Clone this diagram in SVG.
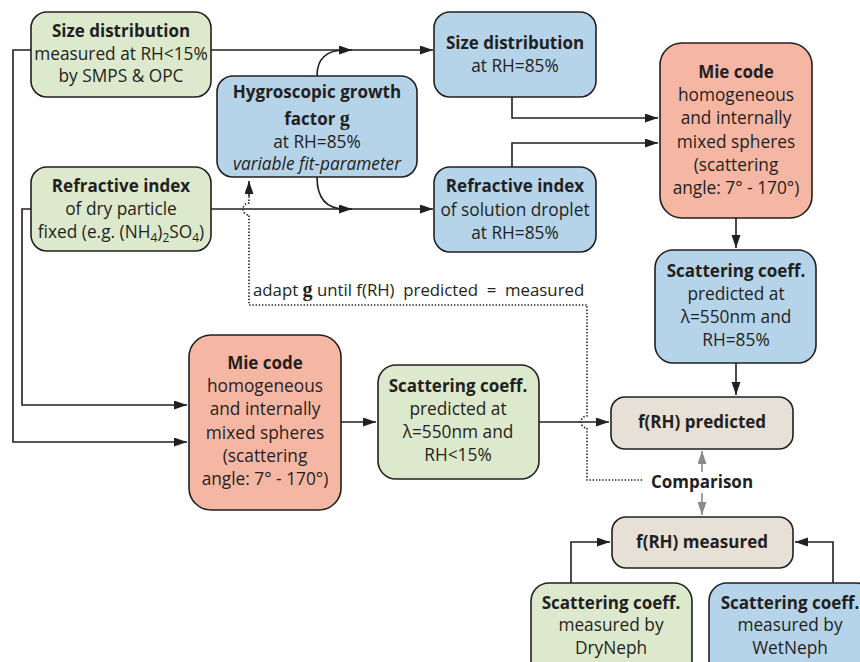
<svg xmlns="http://www.w3.org/2000/svg" width="860" height="662" viewBox="0 0 860 662">
<defs>
<style>
.box{stroke:#231f20;stroke-width:1.6}
.g{fill:#dde9cc}.b{fill:#b5d4ea}.r{fill:#f6b6a4}.t{fill:#e7e0d6}
text{font-family:"Open Sans","Noto Sans","Liberation Sans",sans-serif;font-size:17.3px;fill:#231f20;text-anchor:middle}
.h{font-weight:bold;font-size:17px}
.sg{font-family:"Liberation Serif","DejaVu Serif",serif;font-weight:bold;font-size:20px}
.ln{fill:none;stroke:#231f20;stroke-width:1.6}
.dot{fill:none;stroke:#231f20;stroke-width:1.6;stroke-dasharray:1.4 1.8}
.gr{fill:none;stroke:#8a8a8a;stroke-width:1.6}
</style>
<marker id="a" markerUnits="userSpaceOnUse" markerWidth="14" markerHeight="10" refX="13" refY="4.5" orient="auto"><path d="M0,0 L13,4.5 L0,9 z" fill="#231f20"/></marker>
<marker id="ag" markerUnits="userSpaceOnUse" markerWidth="14" markerHeight="10" refX="13" refY="4.5" orient="auto"><path d="M0,0 L13,4.5 L0,9 z" fill="#8a8a8a"/></marker>
</defs>
<rect width="860" height="662" fill="#fff"/>

<g id="connectors">
<path class="ln" d="M211,50 H352" marker-end="url(#a)"/>
<path class="ln" d="M345,50 H433" marker-end="url(#a)"/>
<path class="ln" d="M317,76 Q317,50 345,50"/>
<path class="ln" d="M211,209 H352" marker-end="url(#a)"/>
<path class="ln" d="M345,209 H433" marker-end="url(#a)"/>
<path class="ln" d="M317,177 Q317,209 345,209"/>
<path class="ln" d="M31,50 H13 V442 H187" marker-end="url(#a)"/>
<path class="ln" d="M31,209 H22 V405 H187" marker-end="url(#a)"/>
<path class="ln" d="M512,97 V118 H658" marker-end="url(#a)"/>
<path class="ln" d="M512,167 V143 H658" marker-end="url(#a)"/>
<path class="ln" d="M736,218 V248" marker-end="url(#a)"/>
<path class="ln" d="M736,363 V395" marker-end="url(#a)"/>
<path class="ln" d="M341,422 H376" marker-end="url(#a)"/>
<path class="ln" d="M539,422 H609" marker-end="url(#a)"/>
<path class="ln" d="M571,583 V542 H610" marker-end="url(#a)"/>
<path class="ln" d="M833,583 V542 H795" marker-end="url(#a)"/>
<path class="dot" d="M642,480 H587 V428 A6,6 0 0,1 587,416 V305 H249 V215 A6,6 0 0,1 249,203 V196"/>
<path class="ln" d="M249,196 V181" marker-end="url(#a)" stroke-width="1.2"/>
<path class="gr" d="M702,472 V451" marker-end="url(#ag)"/>
<path class="gr" d="M702,493 V515" marker-end="url(#ag)"/>
</g>

<g id="n1"><rect class="box g" x="31" y="12" width="180" height="85" rx="16"/>
<text x="121" y="37" class="h">Size distribution</text>
<text x="121" y="60">measured at RH&lt;15%</text>
<text x="121" y="82">by SMPS &amp; OPC</text></g>

<g id="n2"><rect class="box b" x="217" y="76" width="200" height="101" rx="16"/>
<text x="317" y="98" class="h">Hygroscopic growth</text>
<text x="317" y="125" class="h">factor <tspan class="sg">g</tspan></text>
<text x="317" y="148">at RH=85%</text>
<text x="317" y="170" font-style="italic">variable fit-parameter</text></g>

<g id="n3"><rect class="box g" x="31" y="167" width="180" height="84" rx="16"/>
<text x="121" y="192" class="h">Refractive index</text>
<text x="121" y="215">of dry particle</text>
<text x="121" y="238">fixed (e.g. (NH<tspan font-size="12" dy="4">4</tspan><tspan dy="-4">)</tspan><tspan font-size="12" dy="4">2</tspan><tspan dy="-4">SO</tspan><tspan font-size="12" dy="4">4</tspan><tspan dy="-4">)</tspan></text></g>

<g id="n4"><rect class="box b" x="434" y="12" width="162" height="85" rx="16"/>
<text x="515" y="49" class="h">Size distribution</text>
<text x="515" y="72">at RH=85%</text></g>

<g id="n5"><rect class="box b" x="434" y="167" width="162" height="85" rx="16"/>
<text x="515" y="192" class="h">Refractive index</text>
<text x="515" y="216">of solution droplet</text>
<text x="515" y="239">at RH=85%</text></g>

<g id="n6"><rect class="box r" x="660" y="43" width="152" height="175" rx="22"/>
<text x="736" y="78" class="h">Mie code</text>
<text x="736" y="101">homogeneous</text>
<text x="736" y="124">and internally</text>
<text x="736" y="148">mixed spheres</text>
<text x="736" y="171">(scattering</text>
<text x="736" y="194">angle: 7° - 170°)</text></g>

<g id="n7"><rect class="box b" x="655" y="250" width="161" height="113" rx="18"/>
<text x="736" y="277" class="h">Scattering coeff.</text>
<text x="736" y="300">predicted at</text>
<text x="736" y="323">λ=550nm and</text>
<text x="736" y="346">RH=85%</text></g>

<g id="n8"><rect class="box t" x="611" y="397" width="182" height="52" rx="14"/>
<text x="702" y="428" class="h">f(RH) predicted</text></g>

<g id="n9"><text x="702" y="488" class="h">Comparison</text></g>

<g id="n10"><rect class="box t" x="612" y="517" width="181" height="51" rx="14"/>
<text x="702" y="548" class="h">f(RH) measured</text></g>

<g id="n11"><rect class="box r" x="189" y="335" width="152" height="175" rx="22"/>
<text x="265" y="369" class="h">Mie code</text>
<text x="265" y="392">homogeneous</text>
<text x="265" y="415">and internally</text>
<text x="265" y="439">mixed spheres</text>
<text x="265" y="462">(scattering</text>
<text x="265" y="485">angle: 7° - 170°)</text></g>

<g id="n12"><rect class="box g" x="378" y="365" width="161" height="114" rx="18"/>
<text x="458" y="392" class="h">Scattering coeff.</text>
<text x="458" y="415">predicted at</text>
<text x="458" y="438">λ=550nm and</text>
<text x="458" y="461">RH&lt;15%</text></g>

<g id="n13"><rect class="box g" x="531" y="583" width="161" height="100" rx="18"/>
<text x="611" y="609" class="h">Scattering coeff.</text>
<text x="611" y="631">measured by</text>
<text x="611" y="654">DryNeph</text></g>

<g id="n14"><rect class="box b" x="709" y="583" width="165" height="100" rx="18"/>
<text x="790" y="609" class="h">Scattering coeff.</text>
<text x="790" y="631">measured by</text>
<text x="790" y="654">WetNeph</text></g>

<g id="label"><text x="253" y="296" style="text-anchor:start;font-size:16.8px" xml:space="preserve">adapt <tspan class="sg">g</tspan> until f(RH)  predicted  =  measured</text></g>
</svg>
